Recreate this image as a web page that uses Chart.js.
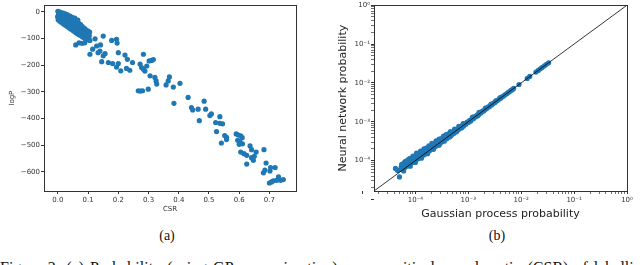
<!DOCTYPE html>
<html>
<head>
<meta charset="utf-8">
<script src="https://cdn.jsdelivr.net/npm/chart.js@4.4.1/dist/chart.umd.min.js"></script>
<style>
  body { margin: 0; background: #fff; width: 640px; height: 265px; overflow: hidden; position: relative; }
  canvas { position: absolute; top: 0; }
  #chartA { left: 0; }
  #chartB { left: 320px; }
  .sub { position: absolute; top: 228px; font: 14px "Liberation Serif", serif; color: #111; transform: translateX(-50%); }
  .fig { position: absolute; left: 0; top: 260px; white-space: nowrap; font: 16px "Liberation Serif", serif; line-height: 16px; word-spacing: 2px; color: #111; }
</style>
</head>
<body>
<canvas id="chartA" width="310" height="222"></canvas>
<canvas id="chartB" width="320" height="222"></canvas>
<div class="sub" style="left:167px">(a)</div>
<div class="sub" style="left:497px">(b)</div>
<div class="fig">Figure 2: (a) Probability (using GP approximation) versus critical sample ratio (CSR) of labelli</div>
<script>
// panel (a): CSR vs logP
const csrTicks = [0.0, 0.1, 0.2, 0.3, 0.4, 0.5, 0.6, 0.7];
const logPTicks = [-600, -500, -400, -300, -200, -100, 0];
const csrLogP = [
  [0.000, 2], [0.002, -8], [-0.001, -18], [0.001, -30],
  [0.005, 0], [0.006, -10], [0.004, -22], [0.006, -34],
  [0.010, -3], [0.011, -14], [0.009, -26], [0.010, -38],
  [0.015, -5], [0.014, -16], [0.016, -30], [0.015, -42],
  [0.020, -6], [0.021, -20], [0.019, -34], [0.020, -46],
  [0.025, -8], [0.024, -24], [0.026, -38], [0.025, -50],
  [0.030, -10], [0.031, -28], [0.029, -42], [0.030, -54],
  [0.035, -14], [0.034, -32], [0.036, -46], [0.035, -58],
  [0.040, -16], [0.041, -30], [0.039, -50], [0.040, -62],
  [0.045, -20], [0.044, -38], [0.046, -54], [0.045, -66],
  [0.050, -22], [0.051, -42], [0.049, -58], [0.050, -70],
  [0.055, -28], [0.054, -46], [0.056, -62], [0.055, -74],
  [0.060, -34], [0.061, -50], [0.059, -66], [0.060, -78],
  [0.065, -38], [0.064, -56], [0.066, -70], [0.065, -82],
  [0.070, -44], [0.071, -60], [0.069, -74], [0.070, -86],
  [0.075, -48], [0.074, -64], [0.076, -78], [0.075, -88],
  [0.080, -54], [0.081, -68], [0.079, -82], [0.080, -92],
  [0.085, -60], [0.084, -72], [0.086, -86], [0.085, -96],
  [0.090, -64], [0.091, -78], [0.089, -90], [0.090, -100],
  [0.095, -70], [0.094, -82], [0.096, -94],
  [0.100, -72], [0.101, -86], [0.099, -98],
  [0.105, -76], [0.104, -90],
  [0.056, -23], [0.066, -31],
  [0.059, -124], [0.07, -116], [0.08, -118], [0.089, -116], [0.1, -105],
  [0.106, -107], [0.123, -101], [0.15, -91],
  [0.115, -140], [0.128, -128], [0.141, -124],
  [0.106, -159], [0.133, -153], [0.139, -147],
  [0.15, -165], [0.156, -157],
  [0.145, -187], [0.167, -190], [0.181, -194],
  [0.178, -107], [0.194, -103], [0.196, -117],
  [0.2, -153],
  [0.2, -194], [0.194, -207], [0.208, -221],
  [0.222, -162], [0.23, -178],
  [0.227, -212], [0.238, -219],
  [0.247, -190],
  [0.272, -196], [0.277, -209], [0.283, -215], [0.294, -203], [0.288, -222],
  [0.283, -159],
  [0.302, -184], [0.31, -182], [0.316, -179],
  [0.305, -240], [0.321, -246], [0.325, -259], [0.327, -271],
  [0.299, -290], [0.266, -296], [0.28, -296], [0.273, -297],
  [0.358, -274], [0.365, -259], [0.369, -244], [0.382, -282], [0.404, -268],
  [0.384, -343],
  [0.431, -321],
  [0.442, -359], [0.446, -368], [0.464, -365],
  [0.468, -408],
  [0.484, -335], [0.489, -365],
  [0.503, -389], [0.508, -383],
  [0.522, -415], [0.536, -393], [0.536, -418], [0.545, -420],
  [0.525, -449],
  [0.541, -492],
  [0.552, -464], [0.558, -471], [0.558, -479],
  [0.59, -458], [0.597, -462], [0.605, -465], [0.61, -472],
  [0.595, -482], [0.603, -489], [0.6, -497], [0.611, -495],
  [0.605, -526], [0.616, -532], [0.625, -538],
  [0.625, -571],
  [0.636, -503], [0.641, -517], [0.656, -526],
  [0.641, -547], [0.647, -557], [0.65, -542],
  [0.682, -517],
  [0.689, -567],
  [0.68, -604], [0.685, -594], [0.702, -597], [0.704, -584], [0.719, -584],
  [0.7, -642], [0.713, -634], [0.724, -632], [0.73, -619], [0.737, -632], [0.746, -629], [0.707, -638]
];

// panel (b): GP probability vs NN probability
const decadeTicks = [1e-5, 1e-4, 1e-3, 1e-2, 1e-1, 1];
const decadeLabels = ['', '10\u207B\u2074', '10\u207B\u00B3', '10\u207B\u00B2', '10\u207B\u00B9', '10\u2070'];
const probRange = [1.65e-5, 1];
const diagonal = [[1.65e-5, 1.65e-5], [1, 1]];
const gpNn = [
  [4.2e-5, 6.3e-5], [4.6e-5, 5.6e-5], [5.0e-5, 3.8e-5], [5.2e-5, 5.9e-5], [5.4e-5, 6.8e-5],
  [5.9e-5, 7.4e-5], [5.8e-5, 6.3e-5], [6.0e-5, 7.4e-5], [6.2e-5, 9.0e-5], [6.3e-5, 6.6e-5],
  [6.6e-5, 8.0e-5], [6.9e-5, 7.2e-5], [7.0e-5, 1.0e-4], [7.2e-5, 8.8e-5], [7.5e-5, 7.9e-5],
  [7.8e-5, 9.6e-5], [8.0e-5, 1.15e-4], [8.1e-5, 8.4e-5], [8.5e-5, 1.05e-4], [8.8e-5, 9.0e-5],
  [9.2e-5, 1.12e-4], [9.6e-5, 9.7e-5], [1.0e-4, 1.22e-4], [1.04e-4, 1.05e-4], [1.08e-4, 1.3e-4],
  [1.1e-4, 1.5e-4], [1.12e-4, 1.12e-4], [1.17e-4, 1.42e-4], [1.22e-4, 1.2e-4], [1.27e-4, 1.5e-4],
  [1.32e-4, 1.3e-4], [1.38e-4, 1.62e-4], [1.44e-4, 1.4e-4], [1.5e-4, 1.75e-4], [1.56e-4, 1.5e-4],
  [1.6e-4, 2.1e-4], [1.63e-4, 1.88e-4], [1.7e-4, 1.64e-4], [1.77e-4, 2.05e-4], [1.85e-4, 1.78e-4],
  [1.93e-4, 2.2e-4], [2.0e-4, 1.95e-4], [2.1e-4, 2.4e-4], [2.2e-4, 2.7e-4], [2.2e-4, 2.1e-4],
  [2.3e-4, 2.6e-4], [2.4e-4, 2.3e-4], [2.5e-4, 2.8e-4], [2.6e-4, 2.5e-4], [2.75e-4, 3.05e-4],
  [2.9e-4, 2.75e-4], [3.0e-4, 3.3e-4], [3.1e-4, 3.7e-4], [3.15e-4, 3.0e-4], [3.3e-4, 3.6e-4],
  [3.5e-4, 3.3e-4], [3.7e-4, 4.0e-4], [3.9e-4, 3.65e-4], [4.1e-4, 4.4e-4], [4.2e-4, 4.9e-4],
  [4.3e-4, 4.05e-4], [4.5e-4, 4.8e-4], [4.8e-4, 4.5e-4], [5.0e-4, 5.3e-4], [5.3e-4, 5.0e-4],
  [5.6e-4, 5.9e-4], [5.9e-4, 5.6e-4], [6.2e-4, 6.5e-4], [6.5e-4, 6.2e-4], [6.9e-4, 7.2e-4],
  [7.3e-4, 6.9e-4], [7.7e-4, 8.0e-4], [8.1e-4, 7.7e-4], [8.6e-4, 8.9e-4], [9.0e-4, 8.6e-4],
  [9.5e-4, 9.8e-4], [1.0e-3, 9.6e-4], [1.06e-3, 1.09e-3], [1.12e-3, 1.07e-3], [1.18e-3, 1.21e-3],
  [1.25e-3, 1.2e-3], [1.32e-3, 1.35e-3], [1.4e-3, 1.34e-3], [1.48e-3, 1.5e-3], [1.56e-3, 1.5e-3],
  [1.65e-3, 1.68e-3], [1.75e-3, 1.7e-3], [1.85e-3, 1.88e-3], [1.96e-3, 1.9e-3], [2.08e-3, 2.1e-3],
  [2.2e-3, 2.15e-3], [2.35e-3, 2.37e-3], [2.5e-3, 2.45e-3], [2.65e-3, 2.67e-3], [2.8e-3, 2.75e-3],
  [3.0e-3, 3.0e-3], [3.2e-3, 3.15e-3], [3.4e-3, 3.42e-3], [3.6e-3, 3.55e-3], [3.85e-3, 3.87e-3],
  [4.1e-3, 4.05e-3], [4.4e-3, 4.42e-3], [4.7e-3, 4.65e-3], [5.0e-3, 5.0e-3], [5.3e-3, 5.25e-3],
  [5.6e-3, 5.6e-3], [6.0e-3, 5.95e-3], [6.4e-3, 6.4e-3], [6.8e-3, 6.7e-3], [7.2e-3, 7.2e-3],
  [9.1e-3, 9.1e-3], [1.3e-2, 1.3e-2], [1.45e-2, 1.47e-2], [1.9e-2, 1.9e-2], [2.1e-2, 2.1e-2],
  [2.3e-2, 2.3e-2], [2.5e-2, 2.5e-2], [2.75e-2, 2.75e-2], [3.0e-2, 3.0e-2], [3.3e-2, 3.3e-2],
  // upper edge of the band
  [5.5e-5, 8.0e-5], [6.5e-5, 9.5e-5], [7.5e-5, 1.1e-4], [9.0e-5, 1.3e-4], [1.05e-4, 1.55e-4],
  [1.25e-4, 1.75e-4], [1.45e-4, 2.0e-4], [1.8e-4, 2.4e-4], [2.05e-4, 2.8e-4], [2.45e-4, 3.2e-4],
  [2.8e-4, 3.6e-4], [3.4e-4, 4.3e-4], [3.8e-4, 4.7e-4], [4.6e-4, 5.6e-4], [5.5e-4, 6.5e-4],
  [6.6e-4, 7.6e-4], [8.0e-4, 9.0e-4], [1.2e-3, 1.32e-3], [1.6e-3, 1.75e-3], [2.1e-3, 2.25e-3],
  [2.7e-3, 2.85e-3], [3.3e-3, 3.45e-3], [4.0e-3, 4.2e-3],
  // lower edge of the band
  [6.0e-5, 5.4e-5], [8.0e-5, 7.2e-5], [1.0e-4, 9.0e-5], [1.3e-4, 1.15e-4], [1.7e-4, 1.5e-4],
  [2.2e-4, 1.95e-4], [2.8e-4, 2.5e-4], [3.5e-4, 3.15e-4], [4.5e-4, 4.1e-4], [6.0e-4, 5.5e-4],
  [7.5e-4, 7.0e-4], [1.1e-3, 1.03e-3], [1.5e-3, 1.42e-3]
];

const BLUE = '#1f77b4';
const tickFont = { family: 'DejaVu Sans', size: 7 };

// matplotlib style box around the plot area
const frame = {
  id: 'frame',
  afterDatasetsDraw(chart) {
    const { ctx, chartArea: a } = chart;
    ctx.save();
    ctx.strokeStyle = '#333';
    ctx.lineWidth = 1;
    ctx.strokeRect(Math.round(a.left) + 0.5, Math.round(a.top) + 0.5,
      Math.round(a.right - a.left), Math.round(a.bottom - a.top));
    ctx.restore();
  }
};

const axisGrid = { drawOnChartArea: false, drawTicks: true, tickLength: 3, tickColor: '#333' };

new Chart(document.getElementById('chartA'), {
  type: 'scatter',
  data: {
    datasets: [{
      data: csrLogP.map(p => ({ x: p[0], y: p[1] })),
      backgroundColor: BLUE,
      borderWidth: 0,
      pointRadius: 2.6
    }]
  },
  options: {
    responsive: false,
    animation: false,
    devicePixelRatio: 1,
    layout: { padding: { top: 4, right: 14, left: 0, bottom: 0 } },
    plugins: { legend: { display: false }, tooltip: { enabled: false } },
    scales: {
      x: {
        type: 'linear', min: -0.046, max: 0.788,
        afterBuildTicks: s => { s.ticks = csrTicks.map(v => ({ value: v })); },
        afterFit: s => { s.height = 31; },
        grid: axisGrid,
        border: { display: false },
        ticks: { font: tickFont, color: '#333', padding: 2, maxRotation: 0, autoSkip: false,
          callback: v => v.toFixed(1) },
        title: { display: true, text: 'CSR', font: tickFont, color: '#333', padding: { top: 0, bottom: 9 } }
      },
      y: {
        type: 'linear', min: -672, max: 25,
        afterBuildTicks: s => { s.ticks = logPTicks.map(v => ({ value: v })); },
        afterFit: s => { s.width = 44; },
        grid: axisGrid,
        border: { display: false },
        ticks: { font: tickFont, color: '#333', padding: 1, autoSkip: false,
          callback: v => (v < 0 ? '\u2212' + Math.abs(v) : String(v)) },
        title: { display: true, text: 'logP', font: tickFont, color: '#333', padding: { top: 8, bottom: 0 } }
      }
    }
  },
  plugins: [frame]
});

// log ticks: decades plus 2..9 in between
const logTicks = [];
decadeTicks.forEach((d, i) => {
  logTicks.push(d);
  if (i < decadeTicks.length - 1) for (let k = 2; k <= 9; k++) logTicks.push(k * d);
});
const logLabel = v => {
  const i = decadeTicks.indexOf(v);
  return i >= 0 ? decadeLabels[i] : '';
};
const logGrid = {
  drawOnChartArea: false, drawTicks: true, tickLength: 3, tickColor: '#333',
  tickWidth: ctx => (ctx.tick && decadeTicks.indexOf(ctx.tick.value) >= 0 ? 1 : 0.7)
};
const bigFont = { family: 'DejaVu Sans', size: 11 };

new Chart(document.getElementById('chartB'), {
  type: 'scatter',
  data: {
    datasets: [{
      type: 'line',
      data: diagonal.map(p => ({ x: p[0], y: p[1] })),
      borderColor: '#000',
      borderWidth: 0.8,
      pointRadius: 0,
      fill: false
    }, {
      data: gpNn.map(p => ({ x: p[0], y: p[1] })),
      backgroundColor: BLUE,
      borderWidth: 0,
      pointRadius: 2.6
    }]
  },
  options: {
    responsive: false,
    animation: false,
    devicePixelRatio: 1,
    layout: { padding: { top: 4, right: 13, left: 0, bottom: 0 } },
    plugins: { legend: { display: false }, tooltip: { enabled: false } },
    scales: {
      x: {
        type: 'logarithmic', min: probRange[0], max: probRange[1],
        afterBuildTicks: s => { s.ticks = logTicks.map(v => ({ value: v })); },
        afterFit: s => { s.height = 31; },
        grid: logGrid,
        border: { display: false },
        ticks: { font: tickFont, color: '#333', padding: 2, maxRotation: 0, autoSkip: false, callback: logLabel },
        title: { display: true, text: 'Gaussian process probability', font: bigFont, color: '#222', padding: { top: 0, bottom: 1 } }
      },
      y: {
        type: 'logarithmic', min: probRange[0], max: probRange[1],
        afterBuildTicks: s => { s.ticks = logTicks.map(v => ({ value: v })); },
        afterFit: s => { s.width = 54; },
        grid: logGrid,
        border: { display: false },
        ticks: { font: tickFont, color: '#333', padding: 1, autoSkip: false, callback: logLabel },
        title: { display: true, text: 'Neural network probability', font: bigFont, color: '#222', padding: { top: 17, bottom: 0 } }
      }
    }
  },
  plugins: [frame]
});
</script>
</body>
</html>
